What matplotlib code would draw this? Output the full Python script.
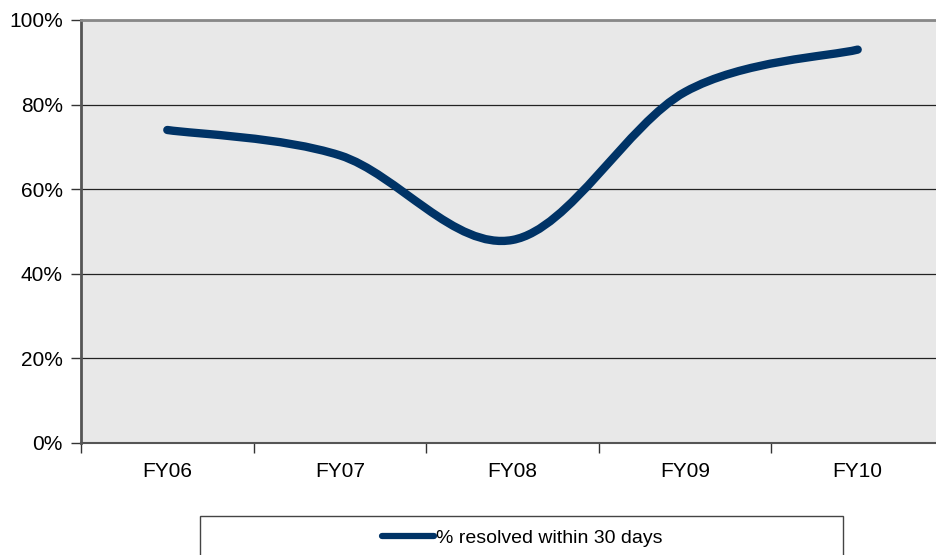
import matplotlib.pyplot as plt
from matplotlib.path import Path
from matplotlib.patches import PathPatch, Rectangle
from matplotlib.lines import Line2D
import numpy as np

plt.rcParams['font.family'] = ['Liberation Sans', 'DejaVu Sans']

NAVY = "#003366"; PANEL = "#E8E8E8"

years = ["FY06", "FY07", "FY08", "FY09", "FY10"]
resolved = [74, 68, 48, 83, 93]   # % resolved within 30 days

fig = plt.figure(figsize=(9.36, 5.55), dpi=100)
ax = fig.add_axes([81/936, 1 - 443/555, 863/936, 423/555])
ax.set_facecolor(PANEL)

x = np.arange(len(years)) + 0.5
y = np.array(resolved, dtype=float)

# smoothed line (Catmull-Rom style bezier through the points, like Excel)
verts = [(x[0], y[0])]; codes = [Path.MOVETO]
for i in range(len(x) - 1):
    p0 = np.array([x[max(i - 1, 0)], y[max(i - 1, 0)]])
    p1 = np.array([x[i], y[i]]); p2 = np.array([x[i + 1], y[i + 1]])
    p3 = np.array([x[min(i + 2, len(x) - 1)], y[min(i + 2, len(x) - 1)]])
    c1 = p1 + (p2 - p0) / 6; c2 = p2 - (p3 - p1) / 6
    verts += [tuple(c1), tuple(c2), tuple(p2)]
    codes += [Path.CURVE4] * 3
ax.add_patch(PathPatch(Path(verts, codes), facecolor="none", edgecolor=NAVY,
                       linewidth=6, capstyle="round", joinstyle="round", zorder=3))

ax.set_xlim(0, len(years))
ax.set_ylim(0, 100)
ax.set_yticks(range(0, 101, 20))
ax.set_yticklabels([f"{v}%" for v in range(0, 101, 20)], fontsize=15)
ax.set_xticks(np.arange(len(years) + 1))
ax.set_xticklabels([])
ax.set_xticks(x, minor=True)
ax.set_xticklabels(years, minor=True, fontsize=15)
ax.tick_params(axis="x", which="major", direction="out", length=7, width=1, color="#333333")
ax.tick_params(axis="x", which="minor", length=0, pad=14)
ax.tick_params(axis="y", direction="out", length=7, width=1, color="#333333", pad=6)
ax.grid(axis="y", color="#222222", linewidth=0.9)
ax.set_axisbelow(True)
ax.spines["top"].set_color("#888888"); ax.spines["top"].set_linewidth(2)
ax.spines["left"].set_color("#555555"); ax.spines["left"].set_linewidth(2)
ax.spines["bottom"].set_color("#555555"); ax.spines["bottom"].set_linewidth(1.5)
ax.spines["right"].set_visible(False)

# legend box (bottom edge runs off the figure)
fig.patches.append(Rectangle((200/936, -0.05), 643/936, 0.05 + 1 - 516/555,
                             transform=fig.transFigure, facecolor="white",
                             edgecolor="#444444", linewidth=1))
handle = Line2D([], [], color=NAVY, linewidth=4.5, solid_capstyle="round")
fig.legend([handle], ["% resolved within 30 days"], loc="center",
           bbox_to_anchor=(522/936, 1 - 538/555), frameon=False, fontsize=14,
           handlelength=2.7, handletextpad=0.1)

fig.savefig("out.png", dpi=100)
